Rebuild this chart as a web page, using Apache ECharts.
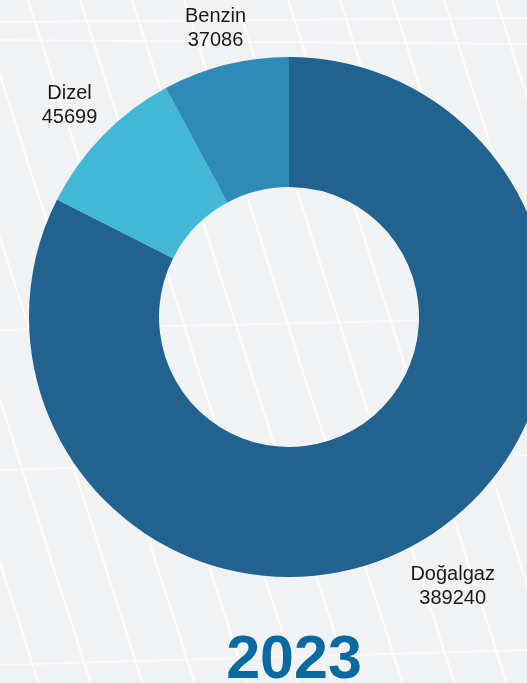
<!DOCTYPE html>
<html>
<head>
<meta charset="utf-8">
<script src="https://cdn.jsdelivr.net/npm/echarts@6/dist/echarts.min.js"></script>
<style>
  html, body { margin: 0; padding: 0; background: #f1f2f4; }
  #chart { width: 527px; height: 683px; }
</style>
</head>
<body>
<div id="chart"></div>
<script>
// Fuel consumption breakdown, 2023
const categories = ['Doğalgaz', 'Dizel', 'Benzin'];
const values = [389240, 45699, 37086];
const colors = ['#21628e', '#42b8d6', '#2e8bb8'];
const yearLabel = '2023';

const CENTER = [289, 317];
const OUTER = 260;
const INNER = 130;
const LABEL_GAP = 10;
const LABEL_NUDGE_Y = 3;

const pieData = categories.map((name, i) => ({ name, value: values[i], itemStyle: { color: colors[i] } }));

// mid angle of each slice, clockwise from 12 o'clock
const total = values.reduce((a, b) => a + b, 0);
let acc = 0;
const midAngles = values.map(v => {
  const a = (acc + v / 2) / total * Math.PI * 2;
  acc += v;
  return a;
});

// faint panel-like streaks across the backdrop
const streaks = [];
for (let x0 = -180; x0 < 560; x0 += 52) {
  streaks.push({
    type: 'line', silent: true, z: -10,
    shape: { x1: x0, y1: 0, x2: x0 + 0.32 * 683, y2: 683 },
    style: { stroke: 'rgba(255,255,255,0.7)', lineWidth: 2 }
  });
}
[[0, 22, 527, 18], [0, 40, 527, 44], [0, 330, 527, 318], [0, 470, 527, 455], [0, 665, 527, 650]].forEach(s => {
  streaks.push({
    type: 'line', silent: true, z: -10,
    shape: { x1: s[0], y1: s[1], x2: s[2], y2: s[3] },
    style: { stroke: 'rgba(255,255,255,0.5)', lineWidth: 2 }
  });
});

const chart = echarts.init(document.getElementById('chart'), null, { renderer: 'canvas' });
chart.setOption({
  backgroundColor: '#f1f2f4',
  animation: false,
  graphic: streaks.concat([{
    type: 'text', z: 5,
    style: {
      text: yearLabel, x: 294, y: 661,
      align: 'center', verticalAlign: 'middle',
      font: 'bold 61px "Liberation Sans", Arial, sans-serif',
      fill: '#0b69a2'
    }
  }]),
  series: [
    {
      type: 'pie',
      center: CENTER,
      radius: [INNER, OUTER],
      startAngle: 90,
      clockwise: true,
      silent: true,
      avoidLabelOverlap: false,
      label: {
        show: true,
        position: 'outside',
        formatter: '{b}\n{c}',
        color: '#1a1a1a',
        fontFamily: '"Liberation Sans", Arial, sans-serif',
        fontSize: 20,
        lineHeight: 24,
        align: 'center',
        overflow: 'none'
      },
      labelLine: { show: false },
      // place each label box just beyond the outer rim along its slice's mid-ray
      labelLayout: function (p) {
        const a = midAngles[p.dataIndex];
        const sx = Math.sin(a), sy = -Math.cos(a);
        const w = p.labelRect.width, h = p.labelRect.height;
        const r = OUTER + LABEL_GAP + Math.abs(sx) * w / 2 + Math.abs(sy) * h / 2;
        return {
          x: CENTER[0] + sx * r,
          y: CENTER[1] + sy * r + LABEL_NUDGE_Y,
          align: 'center',
          verticalAlign: 'middle'
        };
      },
      data: pieData
    }
  ]
});
</script>
</body>
</html>
